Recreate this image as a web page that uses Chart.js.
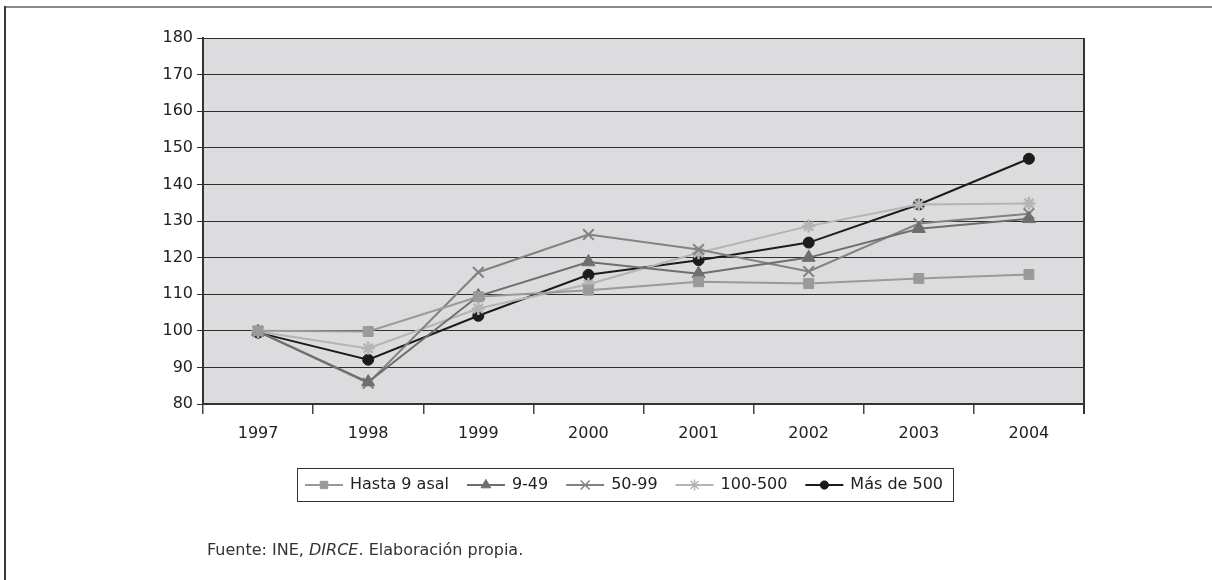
<!DOCTYPE html>
<html>
<head>
<meta charset="utf-8">
<script src="https://cdn.jsdelivr.net/npm/chart.js@4/dist/chart.umd.min.js"></script>
<style>
  html, body { margin: 0; padding: 0; background: #ffffff; }
  #wrap { width: 1212px; height: 580px; position: relative; }
</style>
</head>
<body>
<div id="wrap"><canvas id="c" width="1212" height="580"></canvas></div>
<script>
// Years on the category axis
const years = ['1997', '1998', '1999', '2000', '2001', '2002', '2003', '2004'];

// Index (1997 = 100) by company size
const hasta9 = [100, 99.8, 109.3, 111.1, 113.4, 112.9, 114.3, 115.4];
const de9a49 = [99.8, 86.0, 109.5, 118.8, 115.6, 120.0, 127.9, 130.6];
const de50a99 = [99.8, 85.7, 116.0, 126.3, 122.2, 116.2, 129.3, 132.0];
const de100a500 = [99.8, 95.2, 106.1, 112.7, 121.3, 128.6, 134.5, 134.8];
const masDe500 = [99.5, 92.1, 104.1, 115.3, 119.3, 124.1, 134.5, 147.0];

// Series names as shown in the legend
const seriesNames = ['Hasta 9 asal', '9-49', '50-99', '100-500', 'Más de 500'];

// Value axis ticks
const yMin = 80, yMax = 180, yStep = 10;

const FONT = '"DejaVu Sans", sans-serif';

function series(label, data, color, style, radius, bw) {
  return {
    label: label,
    data: data,
    borderColor: color,
    backgroundColor: color,
    borderWidth: 2,
    pointStyle: style,
    pointRadius: radius,
    pointBackgroundColor: color,
    pointBorderColor: color,
    pointBorderWidth: bw,
    tension: 0,
    fill: false
  };
}

// Plot background, outer frame, right border of the plot, legend and source note
const decorations = {
  id: 'decorations',
  beforeDraw(chart) {
    const { ctx, chartArea: a } = chart;
    ctx.save();
    ctx.fillStyle = '#dcdcde';
    ctx.fillRect(a.left, a.top, a.right - a.left, a.bottom - a.top);
    ctx.restore();
  },
  afterDraw(chart) {
    const { ctx, chartArea: a } = chart;
    ctx.save();
    // outer frame: top and left rules
    ctx.strokeStyle = '#8a8a8a';
    ctx.lineWidth = 2;
    ctx.beginPath(); ctx.moveTo(5, 7); ctx.lineTo(1212, 7); ctx.stroke();
    ctx.strokeStyle = '#3a3a3a';
    ctx.beginPath(); ctx.moveTo(5, 6); ctx.lineTo(5, 580); ctx.stroke();

    // right edge of the plot
    ctx.strokeStyle = '#333333';
    ctx.lineWidth = 2;
    ctx.beginPath(); ctx.moveTo(a.right, a.top); ctx.lineTo(a.right, a.bottom + 10); ctx.stroke();

    // legend box
    const bx = 297, by = 468, bw = 656, bh = 33;
    ctx.strokeStyle = '#333333';
    ctx.lineWidth = 1;
    ctx.strokeRect(bx + 0.5, by + 0.5, bw, bh);
    ctx.font = '16px ' + FONT;
    ctx.textBaseline = 'middle';
    const cy = by + bh / 2 + 0.5;
    const sample = 38, gapIn = 7;
    const ds = chart.data.datasets;
    let total = 0;
    ds.forEach(d => { total += sample + gapIn + ctx.measureText(d.label).width; });
    const padL = 8, padR = 10;
    const gap = (bw - padL - padR - total) / (ds.length - 1);
    let x = bx + padL;
    ds.forEach(d => {
      ctx.strokeStyle = d.borderColor;
      ctx.fillStyle = d.backgroundColor;
      ctx.lineWidth = 2;
      ctx.beginPath(); ctx.moveTo(x, cy); ctx.lineTo(x + sample, cy); ctx.stroke();
      const stroked = d.pointStyle === 'star' || d.pointStyle === 'crossRot';
      const lw = stroked ? 1.5 : d.pointBorderWidth;
      ctx.lineWidth = lw;
      Chart.helpers.drawPoint(ctx, {
        pointStyle: d.pointStyle,
        radius: d.pointRadius * (stroked ? 0.85 : 0.75),
        borderWidth: lw,
        rotation: 0
      }, x + sample / 2, cy);
      ctx.fillStyle = '#222222';
      ctx.textAlign = 'left';
      const tx = x + sample + gapIn;
      ctx.fillText(d.label, tx, cy);
      x = tx + ctx.measureText(d.label).width + gap;
    });

    // source note
    ctx.fillStyle = '#333333';
    ctx.textBaseline = 'alphabetic';
    let fx = 207;
    const fy = 555;
    const parts = [
      ['Fuente: INE, ', 'normal'],
      ['DIRCE', 'italic'],
      ['. Elaboración propia.', 'normal']
    ];
    parts.forEach(p => {
      ctx.font = (p[1] === 'italic' ? 'italic ' : '') + '16px ' + FONT;
      ctx.fillText(p[0], fx, fy);
      fx += ctx.measureText(p[0]).width;
    });
    ctx.restore();
  }
};

new Chart(document.getElementById('c'), {
  type: 'line',
  data: {
    labels: years,
    datasets: [
      series(seriesNames[0], hasta9, '#9a9a9a', 'rect', 7, 1),
      series(seriesNames[1], de9a49, '#6e6e6e', 'triangle', 7.5, 1),
      series(seriesNames[2], de50a99, '#828282', 'crossRot', 7.5, 2),
      series(seriesNames[3], de100a500, '#b4b4b4', 'star', 6.5, 2.5),
      series(seriesNames[4], masDe500, '#1c1c1c', 'circle', 5.5, 1)
    ]
  },
  options: {
    responsive: false,
    animation: false,
    events: [],
    layout: { padding: { left: 0, top: 38, right: 128, bottom: 126 } },
    plugins: {
      legend: { display: false },
      tooltip: { enabled: false },
      title: { display: false }
    },
    scales: {
      x: {
        offset: true,
        grid: {
          offset: true,
          drawOnChartArea: false,
          drawTicks: true,
          tickLength: 10,
          color: '#444444',
          lineWidth: 1.5
        },
        border: { display: true, color: '#333333', width: 2 },
        ticks: {
          color: '#222222',
          font: { family: FONT, size: 16 },
          padding: 10,
          maxRotation: 0,
          autoSkip: false
        },
        afterFit(scale) { scale.height = 50; }
      },
      y: {
        min: yMin,
        max: yMax,
        grid: {
          color: '#2e2e2e',
          lineWidth: 1,
          drawTicks: true,
          tickLength: 6
        },
        border: { display: true, color: '#333333', width: 2 },
        ticks: {
          stepSize: yStep,
          color: '#222222',
          font: { family: FONT, size: 16 },
          padding: 4
        },
        afterFit(scale) { scale.width = 203; }
      }
    }
  },
  plugins: [decorations]
});
</script>
</body>
</html>
